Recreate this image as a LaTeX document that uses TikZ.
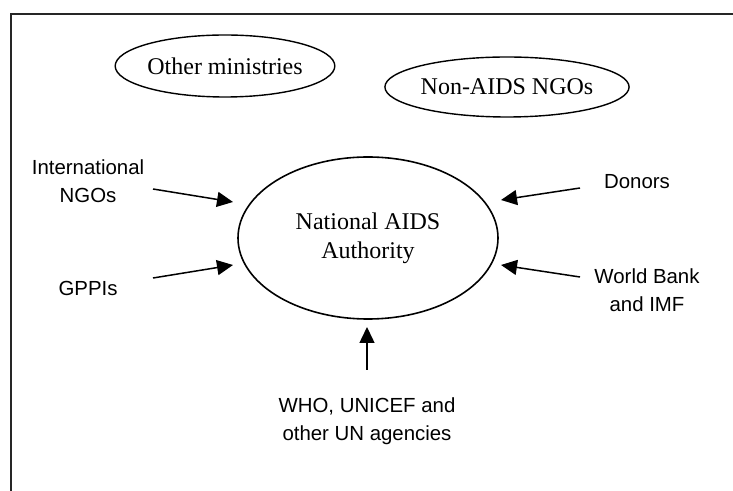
\documentclass[tikz,border=0pt]{standalone}
\usepackage{fontspec}
\setmainfont{Liberation Serif}
\newfontfamily\labelfont{Liberation Sans}
\usetikzlibrary{shapes.geometric,arrows.meta}
\tikzset{
  oval/.style={draw, ellipse, inner sep=0pt, line width=0.7pt, font=\fontsize{12}{14.5}\selectfont, align=center},
  lbl/.style={font=\labelfont\fontsize{10.2}{14}\selectfont, align=center, inner sep=0pt},
  arr/.style={line width=0.75pt, -{Triangle[length=8pt,width=7.5pt]}},
  frame/.style={line width=1.1pt, draw=black!85}
}
\begin{document}
\begin{tikzpicture}[x=0.5pt,y=-0.5pt]
\useasboundingbox (0,0) rectangle (733,491);
\draw[frame] (733,14) -- (11,14) -- (11,491);
\node[oval, minimum width=98pt, minimum height=31pt] (om) at (225,66) {Other ministries};
\node[oval, minimum width=97.5pt, minimum height=30pt] (na) at (507,87) {Non-AIDS NGOs};
\node[oval, line width=0.8pt, minimum width=130pt, minimum height=81pt] (main) at (368,238) {National AIDS\\Authority};
\node[lbl] (intl) at (88,181) {International\\NGOs};
\node[lbl] (gppi) at (88,288) {GPPIs};
\node[lbl] (don) at (637,182) {Donors};
\node[lbl] (wb) at (647,290) {World Bank\\and IMF};
\node[lbl] (who) at (367,421) {WHO, UNICEF and\\other UN agencies};
\coordinate (s1) at (153,189); \coordinate (e1) at (233,202);
\coordinate (s2) at (153,278); \coordinate (e2) at (233,265);
\coordinate (s3) at (580,188); \coordinate (e3) at (501,200);
\coordinate (s4) at (580,277); \coordinate (e4) at (501,265);
\coordinate (s5) at (367,370); \coordinate (e5) at (367,327);
\draw[arr] (s1) -- (e1);
\draw[arr] (s2) -- (e2);
\draw[arr] (s3) -- (e3);
\draw[arr] (s4) -- (e4);
\draw[arr] (s5) -- (e5);
\end{tikzpicture}
\end{document}
